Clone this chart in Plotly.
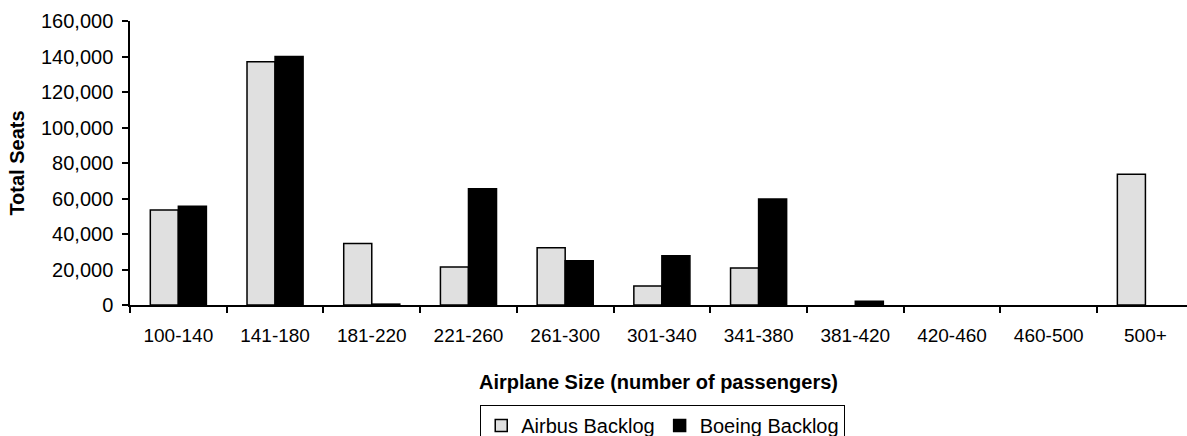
import plotly.graph_objects as go

categories = ["100-140", "141-180", "181-220", "221-260", "261-300", "301-340",
              "341-380", "381-420", "420-460", "460-500", "500+"]
# None = no bar drawn for that size class
airbus = [53500, 137000, 34700, 21400, 32300, 10700, 20800, None, None, None, 73700]
boeing = [55600, 140000, 500, 65500, 24900, 27800, 59700, 2100, None, None, None]

FONT = "Liberation Sans, Arial, Helvetica, sans-serif"

fig = go.Figure()
fig.add_trace(go.Bar(name="Airbus Backlog", x=categories, y=airbus,
                     marker=dict(color="#E0E0E0", line=dict(color="black", width=1.5))))
fig.add_trace(go.Bar(name="Boeing Backlog", x=categories, y=boeing,
                     marker=dict(color="black", line=dict(color="black", width=1.5))))

fig.update_layout(
    width=1187, height=436,
    margin=dict(l=130, r=0, t=21, b=131, autoexpand=False),
    paper_bgcolor="white", plot_bgcolor="white",
    font=dict(family=FONT, size=20, color="black"),
    barmode="group", bargap=0.42, bargroupgap=0,
    showlegend=True,
    legend=dict(orientation="h", x=0.504, xanchor="center", y=-0.352, yanchor="top",
                bordercolor="black", borderwidth=1, font=dict(size=20),
                itemwidth=30, tracegroupgap=0),
)
fig.update_xaxes(
    type="category", range=[-0.5, 10.43], automargin=False,
    showline=True, linecolor="black", linewidth=1.5,
    ticks="outside", tickson="boundaries", ticklen=6, tickcolor="black", tickwidth=1.5,
    tickfont=dict(size=19), ticklabelstandoff=12,
    title=dict(text="<b>Airplane Size (number of passengers)</b>", font=dict(size=20), standoff=30),
    showgrid=False,
)
fig.update_yaxes(
    range=[0, 160000], tickvals=[0, 20000, 40000, 60000, 80000, 100000, 120000, 140000, 160000],
    tickformat=",d", automargin=False,
    showline=True, linecolor="black", linewidth=1.5,
    ticks="outside", ticklen=6, tickcolor="black", tickwidth=1.5,
    tickfont=dict(size=20), ticklabelstandoff=5,
    title=dict(text="<b>Total Seats</b>", font=dict(size=20), standoff=11),
    showgrid=False, zeroline=False,
)

fig.write_html("out.html")
